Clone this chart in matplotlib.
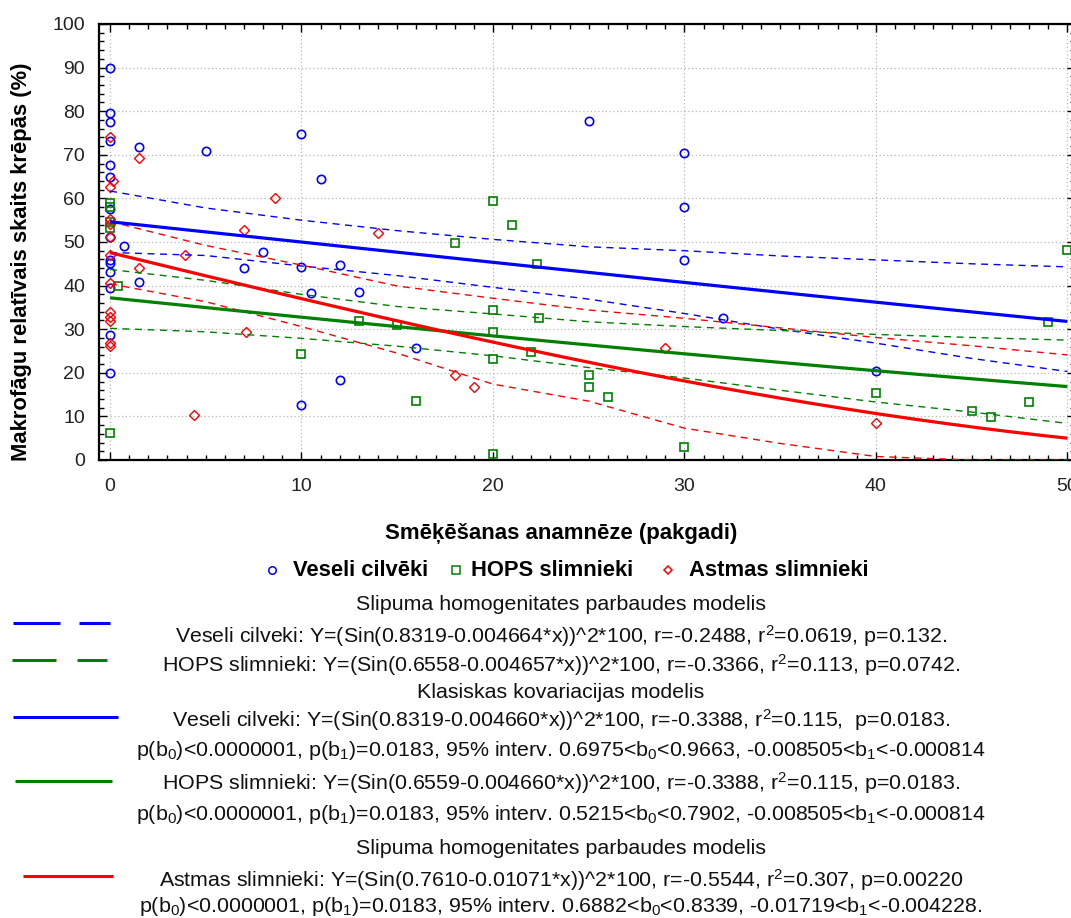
import numpy as np
import matplotlib
matplotlib.use('Agg')
import matplotlib.pyplot as plt
from matplotlib.lines import Line2D
from matplotlib.ticker import MultipleLocator

plt.rcParams['font.family'] = ['Liberation Sans', 'DejaVu Sans']
plt.rcParams['mathtext.fontset'] = 'custom'
plt.rcParams['mathtext.rm'] = 'Liberation Sans'
plt.rcParams['mathtext.it'] = 'Liberation Sans'
plt.rcParams['mathtext.bf'] = 'Liberation Sans:bold'
plt.rcParams['mathtext.default'] = 'regular'

# ---------------- data ----------------
veseli_x = [0, 0, 0, 0, 0, 0, 0, 0, 0, 0, 0, 0, 0, 0,
            1.5, 5, 10, 11, 0.75, 1.5, 7, 8, 10, 10.5, 12, 13, 10, 12, 16,
            25, 30, 30, 30, 32, 40]
veseli_y = [90.0, 79.6, 77.6, 73.2, 67.7, 65.0, 57.5, 51.1, 45.9, 45.1, 43.2, 39.4, 28.7, 19.9,
            71.9, 70.9, 74.7, 64.4, 49.1, 40.9, 44.0, 47.8, 44.3, 38.2, 44.7, 38.6, 12.5, 18.3, 25.6,
            77.8, 70.4, 58.1, 45.9, 32.5, 20.3]

hops_x = [0, 0, 0, 0, 0.4, 0, 10, 13, 15, 16, 18, 20, 21, 20, 20, 20, 20,
          22.4, 22, 22.3, 25, 25, 26, 30, 40, 45, 46, 48, 49, 50]
hops_y = [58.9, 58.0, 54.7, 53.1, 39.8, 6.3, 24.3, 31.9, 31.0, 13.6, 49.7, 59.3, 53.9, 34.4, 29.4, 23.1, 1.4,
          32.5, 24.7, 44.9, 19.5, 16.8, 14.5, 2.9, 15.3, 11.3, 9.9, 13.4, 31.7, 48.2]

astmas_x = [0, 1.5, 0, 0.15, 8.6, 7, 0, 0, 0, 0, 0, 0, 0, 0, 0, 0,
            3.9, 1.5, 7.1, 4.4, 14, 18, 19, 29, 40]
astmas_y = [74.0, 69.3, 62.7, 63.9, 60.2, 52.8, 55.2, 54.1, 51.1, 47.0, 40.7, 34.0, 32.9, 31.8, 26.1, 26.8,
            47.0, 44.0, 29.4, 10.3, 52.0, 19.5, 16.8, 25.6, 8.6]

# model coefficients Y = (sin(b0 + b1*x))^2 * 100 (from the chart text)
b0_veseli, b1_veseli = 0.8319, -0.004660
b0_hops, b1_hops = 0.6559, -0.004660
b0_astmas, b1_astmas = 0.7610, -0.01071

# confidence bands
band_x = [0, 5, 10, 15, 20, 25, 30, 35, 40, 45, 50]
veseli_upper = [61.7, 57.8, 55.0, 52.6, 50.6, 48.9, 48.0, 46.8, 45.9, 45.0, 44.3]
veseli_lower = [47.6, 46.9, 44.5, 42.3, 39.6, 36.9, 33.6, 30.0, 26.8, 23.3, 20.3]
hops_upper = [43.7, 41.2, 38.0, 35.2, 33.5, 31.7, 30.6, 29.7, 28.8, 28.1, 27.5]
hops_lower = [30.2, 29.4, 27.9, 26.1, 23.9, 21.2, 18.8, 16.0, 13.3, 11.0, 8.4]
astmas_upper = [54.7, 49.2, 44.7, 39.9, 37.1, 34.4, 32.5, 30.3, 28.1, 26.2, 24.1]
astmas_lower = [40.4, 36.3, 30.6, 24.5, 17.4, 13.5, 7.3, 3.8, 0.8, 0.0, 0.0]

series_names = ['Veseli cilvēki', 'HOPS slimnieki', 'Astmas slimnieki']
x_label = 'Smēķēšanas anamnēze (pakgadi)'
y_label = 'Makrofāgu relatīvais skaits krēpās (%)'

text_lines = [
    'Slipuma homogenitates parbaudes modelis',
    'Veseli cilveki: Y=(Sin(0.8319-0.004664*x))^2*100, r=-0.2488, r$^2$=0.0619, p=0.132.',
    'HOPS slimnieki: Y=(Sin(0.6558-0.004657*x))^2*100, r=-0.3366, r$^2$=0.113, p=0.0742.',
    'Klasiskas kovariacijas modelis',
    'Veseli cilveki: Y=(Sin(0.8319-0.004660*x))^2*100, r=-0.3388, r$^2$=0.115,  p=0.0183.',
    'p(b$_0$)<0.0000001, p(b$_1$)=0.0183, 95% interv. 0.6975<b$_0$<0.9663, -0.008505<b$_1$<-0.000814',
    'HOPS slimnieki: Y=(Sin(0.6559-0.004660*x))^2*100, r=-0.3388, r$^2$=0.115, p=0.0183.',
    'p(b$_0$)<0.0000001, p(b$_1$)=0.0183, 95% interv. 0.5215<b$_0$<0.7902, -0.008505<b$_1$<-0.000814',
    'Slipuma homogenitates parbaudes modelis',
    'Astmas slimnieki: Y=(Sin(0.7610-0.01071*x))^2*100, r=-0.5544, r$^2$=0.307, p=0.00220',
    'p(b$_0$)<0.0000001, p(b$_1$)=0.0183, 95% interv. 0.6882<b$_0$<0.8339, -0.01719<b$_1$<-0.004228.',
]

BLUE = '#0000FF'
GREEN = '#008000'
RED = '#FF0000'

W, H = 1071, 918
fig = plt.figure(figsize=(W / 100, H / 100), dpi=100)
fig.patch.set_facecolor('white')


def fx(px):
    return px / W


def fy(py):
    return 1 - py / H


ax = fig.add_axes([fx(99), fy(460), fx(1075) - fx(99), fy(24) - fy(460)])
ax.set_xlim(-0.575, 50.4)
ax.set_ylim(0, 100)
ax.xaxis.set_major_locator(MultipleLocator(10))
ax.xaxis.set_minor_locator(MultipleLocator(1))
ax.yaxis.set_major_locator(MultipleLocator(10))
ax.yaxis.set_minor_locator(MultipleLocator(2))
ax.tick_params(which='both', direction='in', top=True, right=True, color='black', width=1.0)
ax.tick_params(which='major', length=6)
ax.tick_params(which='minor', length=3.5)
ax.tick_params(axis='y', which='major', labelsize=14, pad=10)
ax.tick_params(axis='x', which='major', labelsize=14, pad=13)
for lab in ax.get_xticklabels() + ax.get_yticklabels():
    lab.set_color('#222222')
for s in ax.spines.values():
    s.set_linewidth(1.6)
ax.grid(True, which='major', linestyle=(0, (1, 2)), color='#b8b8b8', linewidth=0.9)
ax.set_axisbelow(True)

# points
ax.plot(veseli_x, veseli_y, ls='none', marker='o', ms=6.0, mfc='none', mec=BLUE, mew=1.2, zorder=3)
ax.plot(hops_x, hops_y, ls='none', marker='s', ms=5.8, mfc='none', mec=GREEN, mew=1.2, zorder=3)
ax.plot(astmas_x, astmas_y, ls='none', marker='D', ms=4.8, mfc='none', mec=RED, mew=1.0, zorder=3)

# bands
dash = (0, (5, 4))
for xs, ys, c in [(band_x, veseli_upper, BLUE), (band_x, veseli_lower, BLUE),
                  (band_x, hops_upper, GREEN), (band_x, hops_lower, GREEN),
                  (band_x, astmas_upper, RED), (band_x, astmas_lower, RED)]:
    ax.plot(xs, ys, color=c, lw=1.0, ls=dash, zorder=4)

# fitted models
xx = np.linspace(0, 50, 201)
for b0, b1, c in [(b0_veseli, b1_veseli, BLUE), (b0_hops, b1_hops, GREEN), (b0_astmas, b1_astmas, RED)]:
    ax.plot(xx, np.sin(b0 + b1 * xx) ** 2 * 100, color=c, lw=2.3, zorder=5, solid_capstyle='butt')

# axis labels
fig.text(fx(561), fy(534), x_label, ha='center', va='center', fontsize=16, fontweight='bold')
fig.text(fx(22), fy(262), y_label, ha='center', va='center', rotation=90, fontsize=15.8, fontweight='bold')

# marker legend row
leg_y = fy(570)
markers = [('o', BLUE, 5.4), ('s', GREEN, 5.2), ('D', RED, 4.4)]
marker_px = [272, 456, 668]
text_px = [293, 471, 689]
for (m, c, ms), mpx, tpx, name in zip(markers, marker_px, text_px, series_names):
    fig.add_artist(Line2D([fx(mpx)], [leg_y], ls='none', marker=m, ms=ms, mfc='none', mec=c, mew=1.1))
    fig.text(fx(tpx), leg_y, name, ha='left', va='center', fontsize=15.8, fontweight='bold')

# model text lines
line_y = [604, 636, 665, 692, 720, 750, 783, 815, 848, 880, 906]
for t, py in zip(text_lines, line_y):
    fig.text(fx(561), fy(py), t, ha='center', va='center', fontsize=15.4, color='#111111')

# line samples
def seg(x1, x2, py, c, lw=2.2):
    fig.add_artist(Line2D([fx(x1), fx(x2)], [fy(py), fy(py)], color=c, lw=lw, solid_capstyle='butt'))

seg(13, 60, 623, BLUE)
seg(79, 110, 623, BLUE)
seg(12, 56, 660, GREEN)
seg(77, 107, 660, GREEN)
seg(13, 118, 717, BLUE)
seg(15, 112, 781, GREEN)
seg(23, 113, 876, RED)

fig.savefig('out.png', dpi=100, facecolor='white')
